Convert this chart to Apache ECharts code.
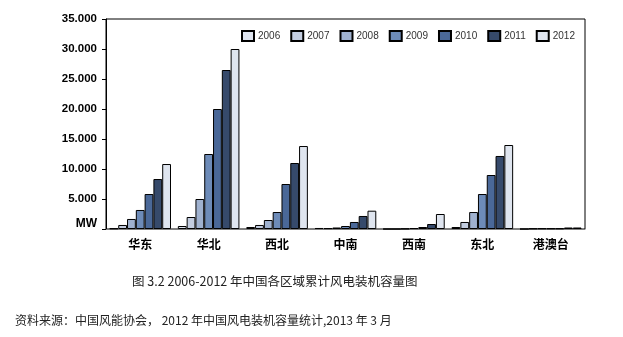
<!DOCTYPE html>
<html>
<head>
<meta charset="utf-8">
<script src="https://cdn.jsdelivr.net/npm/echarts@6/dist/echarts.min.js"></script>
<style>
  html, body { margin: 0; padding: 0; background: #fff; }
  #chart { width: 623px; height: 337px; }
</style>
</head>
<body>
<div id="chart"></div>
<script>
// Regions (x axis categories)
const regions = ['华东', '华北', '西北', '中南', '西南', '东北', '港澳台'];
// Years shown as series
const years = ['2006', '2007', '2008', '2009', '2010', '2011', '2012'];

// Cumulative installed wind capacity (MW) per region, one array per year
const y2006 = [100, 500, 330, 170, 0, 330, 0];
const y2007 = [670, 2000, 670, 150, 0, 1170, 80];
const y2008 = [1670, 5000, 1500, 250, 50, 2830, 100];
const y2009 = [3170, 12500, 2830, 500, 150, 5830, 100];
const y2010 = [5830, 20000, 7500, 1170, 330, 9000, 100];
const y2011 = [8330, 26500, 11000, 2170, 830, 12170, 250];
const y2012 = [10830, 30000, 13830, 3050, 2500, 14000, 250];

// Y axis ticks
const yTicks = [0, 5000, 10000, 15000, 20000, 25000, 30000, 35000];

const caption = '图 3.2 2006-2012 年中国各区域累计风电装机容量图';
const source = '资料来源：中国风能协会， 2012 年中国风电装机容量统计,2013 年 3 月';

const seriesData = [y2006, y2007, y2008, y2009, y2010, y2011, y2012];
const colors = ['#dde3ee', '#c3cde0', '#9fb1cf', '#6d8bb8', '#4a6898', '#364a6b', '#dfe5ef'];

const chart = echarts.init(document.getElementById('chart'));

chart.setOption({
  animation: false,
  backgroundColor: '#fff',
  grid: {
    left: 106, right: 38, top: 19, bottom: 108,
    show: true, borderColor: '#000', borderWidth: 1
  },
  legend: {
    data: years,
    icon: 'rect',
    left: 241, top: 30, padding: 0,
    itemWidth: 12, itemHeight: 10, itemGap: 10,
    textStyle: { fontFamily: 'Arial, "Liberation Sans"', fontSize: 10, color: '#333', padding: [0, 0, 0, -1] }
  },
  xAxis: {
    type: 'category',
    data: regions,
    axisLine: { lineStyle: { color: '#808080', width: 1 } },
    axisTick: { show: false },
    axisLabel: {
      fontFamily: '"Noto Sans CJK SC"', fontWeight: 'bold', fontSize: 12,
      color: '#000', margin: 9
    }
  },
  yAxis: {
    type: 'value',
    min: yTicks[0], max: yTicks[yTicks.length - 1], interval: 5000,
    axisLine: { show: true, lineStyle: { color: '#000', width: 1 } },
    axisTick: { show: true, length: 4, lineStyle: { color: '#000' } },
    splitLine: { show: false },
    axisLabel: {
      margin: 9,
      fontFamily: 'Arial, "Liberation Sans"', fontWeight: 'bold', fontSize: 11.5, color: '#000',
      formatter: v => v === 0 ? '{mw|MW}' : (v / 1000).toFixed(3),
      rich: {
        mw: { fontFamily: 'Arial, "Liberation Sans"', fontSize: 12, color: '#000', padding: [0, 0, 10, 0] }
      }
    }
  },
  series: years.map((y, i) => ({
    name: y,
    type: 'bar',
    data: seriesData[i],
    barGap: '0%',
    barCategoryGap: '10%',
    itemStyle: { color: colors[i], borderColor: '#000', borderWidth: 1 }
  })),
  graphic: [
    {
      type: 'text', left: 132, top: 275,
      style: { text: caption, font: '12.5px "Noto Sans CJK SC"', fill: '#222' }
    },
    {
      type: 'text', left: 15, top: 314,
      style: { text: source, font: '12px "Noto Sans CJK SC"', fill: '#222' }
    }
  ]
});
</script>
</body>
</html>
